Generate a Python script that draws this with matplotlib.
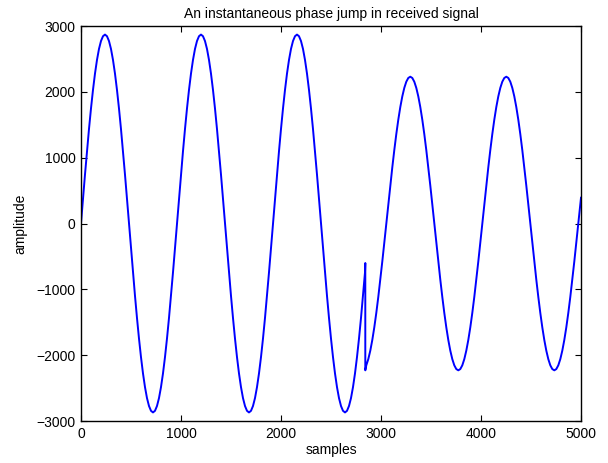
import matplotlib
matplotlib.use("Agg")
import matplotlib.pyplot as plt

plt.rcParams['font.family'] = ['Liberation Sans', 'DejaVu Sans']

# one period of the signal before the jump, every 20 samples (period ~960)
cycle_before = [
    0, 375, 743, 1098, 1435, 1747, 2029, 2277, 2485, 2652, 2772, 2845,
    2870, 2845, 2772, 2652, 2485, 2277, 2029, 1747, 1435, 1098, 743, 375,
    0, -375, -743, -1098, -1435, -1747, -2029, -2277, -2485, -2652, -2772, -2845,
    -2870, -2845, -2772, -2652, -2485, -2277, -2029, -1747, -1435, -1098, -743, -375,
]
# one period after the jump (smaller amplitude)
cycle_after = [
    0, 291, 577, 853, 1115, 1358, 1577, 1769, 1931, 2060, 2154, 2211,
    2230, 2211, 2154, 2060, 1931, 1769, 1577, 1358, 1115, 853, 577, 291,
    0, -291, -577, -853, -1115, -1358, -1577, -1769, -1931, -2060, -2154, -2211,
    -2230, -2211, -2154, -2060, -1931, -1769, -1577, -1358, -1115, -853, -577, -291,
]

# signal up to the jump at sample 2843
samples_before = list(range(0, 2861, 20))[:143] + [2843]
amp_before = (cycle_before * 3)[:143] + [-600]

# signal after the jump, to sample 5000
samples_after = [2843] + list(range(2853, 4994, 20)) + [5000]
amp_after = [-2230] + cycle_after[38:] + cycle_after * 2 + cycle_after[:2] + [392]

x_ticks = [0, 1000, 2000, 3000, 4000, 5000]
y_ticks = [-3000, -2000, -1000, 0, 1000, 2000, 3000]

fig = plt.figure(figsize=(6.08, 4.63), dpi=100)
ax = fig.add_axes([0.1332, 0.0907, 0.8224, 0.8531])

ax.plot(samples_before + samples_after, amp_before + amp_after,
        color='#0000ff', lw=1.4)

ax.set_xlim(0, 5000)
ax.set_ylim(-3000, 3000)
ax.set_xticks(x_ticks)
ax.set_yticks(y_ticks)
ax.tick_params(direction='in', top=True, right=True, length=4,
               width=0.8, labelsize=10, pad=4)
for s in ax.spines.values():
    s.set_linewidth(1.0)

ax.set_xlabel("samples", fontsize=10, labelpad=2)
ax.set_ylabel("amplitude", fontsize=10, labelpad=6)
ax.set_title("An instantaneous phase jump in received signal", fontsize=10, pad=6)

fig.savefig("out.png", dpi=100)
